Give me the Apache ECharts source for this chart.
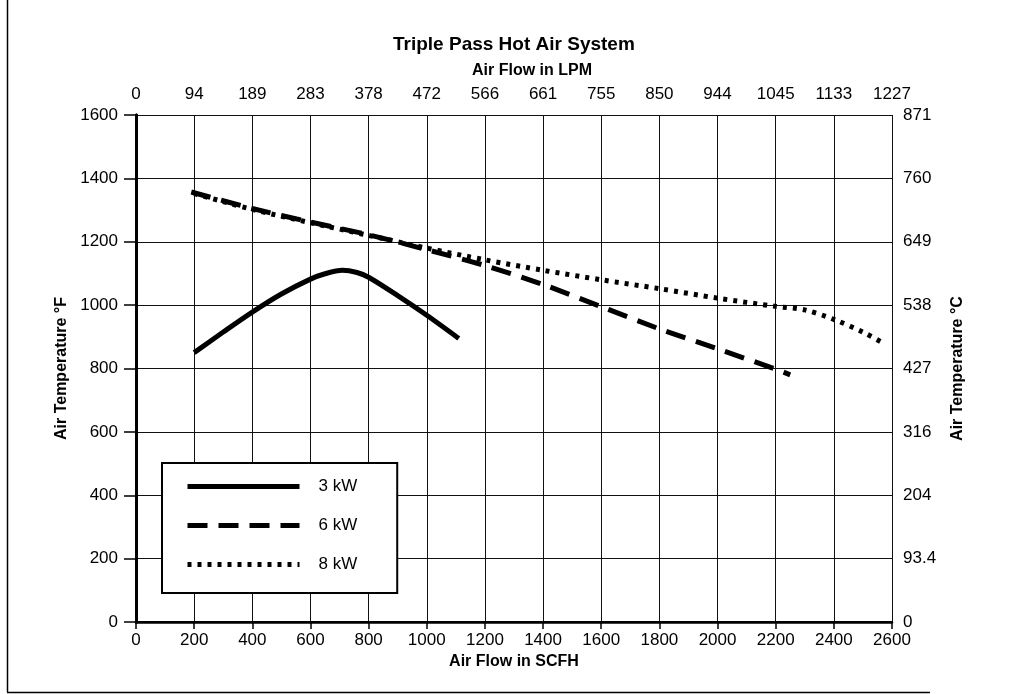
<!DOCTYPE html>
<html>
<head>
<meta charset="utf-8">
<script src="https://cdn.jsdelivr.net/npm/echarts@6/dist/echarts.min.js"></script>
<style>
html,body{margin:0;padding:0;background:#fff;}
#c{width:1015px;height:694px;}
</style>
</head>
<body>
<div id="c"></div>
<script>
// Data
const seriesNames = ['3 kW', '6 kW', '8 kW'];
const kw3 = [[200,850],[300,915],[400,978],[500,1035],[600,1082],[650,1099],[710,1110],[760,1103],[800,1088],[900,1030],[1000,968],[1110,895]];
const kw6 = [[190,1357],[400,1305],[600,1262],[800,1222],[1000,1175],[1200,1125],[1400,1065],[1600,995],[1800,925],[2000,862],[2200,798],[2250,780]];
const kw8 = [[200,1352],[400,1302],[600,1260],[800,1220],[1000,1180],[1200,1143],[1400,1110],[1600,1080],[1800,1052],[2000,1022],[2200,996],[2300,985],[2400,955],[2500,915],[2570,880]];
const lpmLabels = ['0','94','189','283','378','472','566','661','755','850','944','1045','1133','1227'];
const celsiusLabels = ['0','93.4','204','316','427','538','649','760','871'];

const FONT = 'Liberation Sans, Arial, sans-serif';
const chart = echarts.init(document.getElementById('c'), null, {renderer: 'canvas'});

const gridLine = {show: true, lineStyle: {color: '#111', width: 1}};

chart.setOption({
  backgroundColor: '#fff',
  animation: false,
  color: ['#000', '#000', '#000'],
  title: {
    text: 'Triple Pass Hot Air System',
    left: 388, top: 30,
    textStyle: {fontFamily: FONT, fontSize: 19, fontWeight: 'bold', color: '#000'}
  },
  grid: {left: 136, top: 115, right: 123, bottom: 72, containLabel: false},
  legend: {
    orient: 'vertical',
    left: 162, top: 463,
    padding: [15, 40, 20, 23],
    itemWidth: 112, itemHeight: 14, itemGap: 22,
    backgroundColor: '#fff',
    borderColor: '#000', borderWidth: 2, borderRadius: 0,
    lineStyle: {width: 5},
    itemStyle: {opacity: 0},
    textStyle: {fontFamily: FONT, fontSize: 17, color: '#000', padding: [0, 0, 0, 14]},
    data: [
      {name: '3 kW'},
      {name: '6 kW'},
      {name: '8 kW'}
    ],
    z: 10
  },
  xAxis: [
    {
      type: 'value', position: 'bottom', min: 0, max: 2600, interval: 200,
      name: 'Air Flow in SCFH', nameLocation: 'middle', nameGap: 30,
      nameTextStyle: {fontFamily: FONT, fontSize: 16, fontWeight: 'bold', color: '#000'},
      axisLine: {show: true, lineStyle: {color: '#000', width: 2}},
      axisTick: {show: true, length: 7, lineStyle: {color: '#000', width: 1.5}},
      axisLabel: {fontFamily: FONT, fontSize: 17, color: '#000', margin: 10,
        formatter: v => String(v)},
      splitLine: gridLine
    },
    {
      type: 'value', position: 'top', min: 0, max: 2600, interval: 200,
      name: 'Air Flow in LPM', nameLocation: 'middle', nameGap: 36,
      nameTextStyle: {fontFamily: FONT, fontSize: 16, fontWeight: 'bold', color: '#000', padding: [0, 0, 0, 36]},
      axisLine: {show: true, lineStyle: {color: '#000', width: 2.5}},
      axisTick: {show: false},
      axisLabel: {fontFamily: FONT, fontSize: 17, color: '#000', margin: 12,
        formatter: v => lpmLabels[Math.round(v / 200)]},
      splitLine: {show: false}
    }
  ],
  yAxis: [
    {
      type: 'value', position: 'left', min: 0, max: 1600, interval: 200,
      name: 'Air Temperature °F', nameLocation: 'middle', nameGap: 60, nameRotate: 90,
      nameTextStyle: {fontFamily: FONT, fontSize: 16, fontWeight: 'bold', color: '#000'},
      axisLine: {show: true, lineStyle: {color: '#000', width: 3}},
      axisTick: {show: true, length: 12, lineStyle: {color: '#000', width: 1.5}},
      axisLabel: {fontFamily: FONT, fontSize: 17, color: '#000', margin: 18,
        formatter: v => String(v)},
      splitLine: gridLine
    },
    {
      type: 'value', position: 'right', min: 0, max: 1600, interval: 200,
      name: 'Air Temperature °C', nameLocation: 'middle', nameGap: 58, nameRotate: 90,
      nameTextStyle: {fontFamily: FONT, fontSize: 16, fontWeight: 'bold', color: '#000'},
      axisLine: {show: true, lineStyle: {color: '#000', width: 3}},
      axisTick: {show: false},
      axisLabel: {fontFamily: FONT, fontSize: 17, color: '#000', margin: 11,
        formatter: v => celsiusLabels[Math.round(v / 200)]},
      splitLine: {show: false}
    }
  ],
  series: [
    {name: seriesNames[0], type: 'line', data: kw3, symbol: 'none', smooth: 0.3,
      itemStyle: {color: '#000'},
      lineStyle: {color: '#000', width: 5, type: 'solid'}, z: 3},
    {name: seriesNames[1], type: 'line', data: kw6, symbol: 'none', smooth: 0.3,
      itemStyle: {color: '#000'},
      lineStyle: {color: '#000', width: 5, type: [20, 11]}, z: 3},
    {name: seriesNames[2], type: 'line', data: kw8, symbol: 'none', smooth: 0.3,
      itemStyle: {color: '#000'},
      lineStyle: {color: '#000', width: 5, type: [4, 6]}, z: 3}
  ],
  graphic: [
    {type: 'line', shape: {x1: 7.5, y1: 0, x2: 7.5, y2: 692}, style: {stroke: '#000', lineWidth: 1.5}, silent: true},
    {type: 'line', shape: {x1: 7, y1: 692.5, x2: 930, y2: 692.5}, style: {stroke: '#000', lineWidth: 1.5}, silent: true}
  ]
});
</script>
</body>
</html>
